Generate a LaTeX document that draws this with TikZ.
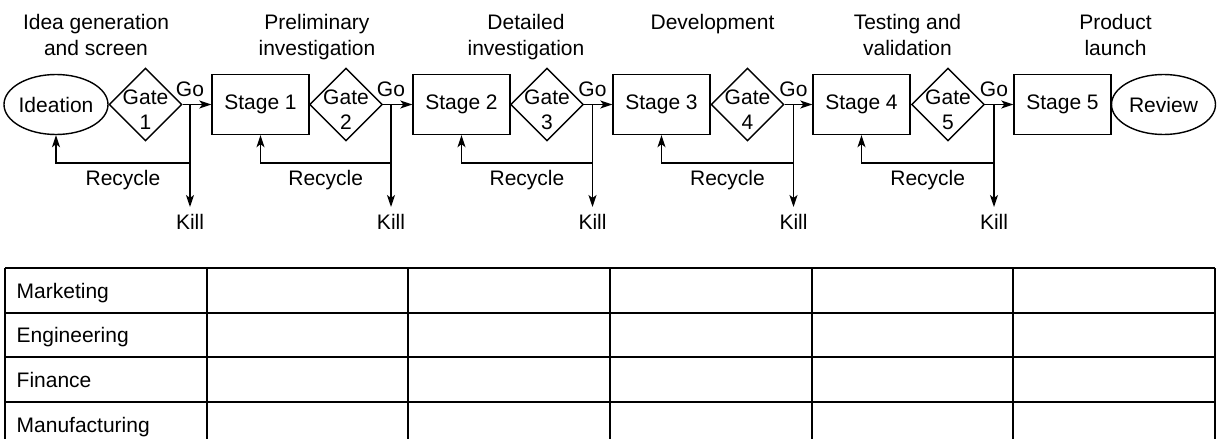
\documentclass[tikz,border=0pt]{standalone}
\usepackage{fontspec}
\setmainfont{Liberation Sans}
\usetikzlibrary{shapes.geometric,arrows.meta}

\begin{document}
\begin{tikzpicture}[x=0.5pt,y=-0.5pt,line width=0.7pt,
	  font=\fontsize{10.5}{12.5}\selectfont,
	  stagebox/.style={draw, rectangle, minimum width=48.5pt, minimum height=30pt, inner sep=0pt},
	  oval/.style={draw, ellipse, minimum width=52pt, minimum height=30pt, inner sep=0pt, inner xsep=-1pt},
	  gate/.style={draw, diamond, minimum width=36.5pt, minimum height=36.5pt, inner sep=0pt},
	  gatetext/.style={align=center, inner sep=0pt},
	  hdr/.style={align=center, anchor=north, inner sep=0pt, font=\fontsize{10.5}{13}\selectfont},
	  arr/.style={-{Stealth[length=6pt,width=4pt,inset=1.5pt]}},
	  rowlbl/.style={anchor=base west, inner sep=0pt},
	  grid/.style={line width=0.8pt}]
	  \useasboundingbox (0,0) rectangle (1223,439);

	  % phase headings
	  \node[hdr] (h1) at (96,14) {Idea generation\\and screen};
	  \node[hdr] (h2) at (317,14) {Preliminary\\investigation};
	  \node[hdr] (h3) at (526,14) {Detailed\\investigation};
	  \node[hdr] (h4) at (712.5,14) {Development};
	  \node[hdr] (h5) at (907.5,14) {Testing and\\validation};
	  \node[hdr] (h6) at (1115.5,14) {Product\\launch};

	  % stages and gates
	  \node[oval] (idea) at (56,104.5) {Ideation};
	  \node[gate] (g1) at (145.5,104.5) {};
	  \node[gatetext] (gt1) at ([yshift=-2.5pt]g1.center) {Gate\\1};
	  \node[stagebox] (s1) at (260.5,104.5) {Stage 1};
	  \node[gate] (g2) at (346,104.5) {};
	  \node[gatetext] (gt2) at ([yshift=-2.5pt]g2.center) {Gate\\2};
	  \node[stagebox] (s2) at (461.5,104.5) {Stage 2};
	  \node[gate] (g3) at (547,104.5) {};
	  \node[gatetext] (gt3) at ([yshift=-2.5pt]g3.center) {Gate\\3};
	  \node[stagebox] (s3) at (661.5,104.5) {Stage 3};
	  \node[gate] (g4) at (747.5,104.5) {};
	  \node[gatetext] (gt4) at ([yshift=-2.5pt]g4.center) {Gate\\4};
	  \node[stagebox] (s4) at (861.5,104.5) {Stage 4};
	  \node[gate] (g5) at (948,104.5) {};
	  \node[gatetext] (gt5) at ([yshift=-2.5pt]g5.center) {Gate\\5};
	  \node[stagebox] (s5) at (1062.5,104.5) {Stage 5};
	  \node[oval] (rev) at (1163.5,104.5) {Review};

	  % go / kill points
	  \coordinate (k1) at (190,104.5);
	  \coordinate (k2) at (391,104.5);
	  \coordinate (k3) at (592.5,104.5);
	  \coordinate (k4) at (793.5,104.5);
	  \coordinate (k5) at (994,104.5);
	  \coordinate (r1) at (190,163);
	  \coordinate (r2) at (391,163);
	  \coordinate (r3) at (592.5,163);
	  \coordinate (r4) at (793.5,163);
	  \coordinate (r5) at (994,163);

	  \node[anchor=south] (go1) at (k1) {Go};
	  \node[anchor=south] (go2) at (k2) {Go};
	  \node[anchor=south] (go3) at (k3) {Go};
	  \node[anchor=south] (go4) at (k4) {Go};
	  \node[anchor=south] (go5) at (k5) {Go};

	  \node[anchor=north] (kill1) at (190,207) {Kill};
	  \node[anchor=north] (kill2) at (391,207) {Kill};
	  \node[anchor=north] (kill3) at (592.5,207) {Kill};
	  \node[anchor=north] (kill4) at (793.5,207) {Kill};
	  \node[anchor=north] (kill5) at (994,207) {Kill};

	  \draw[arr] (g1.east) -- (s1.west);
	  \draw[arr] (g2.east) -- (s2.west);
	  \draw[arr] (g3.east) -- (s3.west);
	  \draw[arr] (g4.east) -- (s4.west);
	  \draw[arr] (g5.east) -- (s5.west);

	  \draw[arr] (k1) -- (kill1.north);
	  \draw[arr] (k2) -- (kill2.north);
	  \draw[arr] (k3) -- (kill3.north);
	  \draw[arr] (k4) -- (kill4.north);
	  \draw[arr] (k5) -- (kill5.north);

	  \draw[arr] (r1) -| node[pos=0.25, below] (rc1) {Recycle} (idea.south);
	  \draw[arr] (r2) -| node[pos=0.25, below] (rc2) {Recycle} (s1.south);
	  \draw[arr] (r3) -| node[pos=0.25, below] (rc3) {Recycle} (s2.south);
	  \draw[arr] (r4) -| node[pos=0.25, below] (rc4) {Recycle} (s3.south);
	  \draw[arr] (r5) -| node[pos=0.25, below] (rc5) {Recycle} (s4.south);

	  % function table
	  \draw[grid] (5,268) -- (1215,268);
	  \draw[grid] (5,313) -- (1215,313);
	  \draw[grid] (5,357) -- (1215,357);
	  \draw[grid] (5,402) -- (1215,402);
	  \draw[grid] (5,268) -- (5,439);
	  \draw[grid] (207,268) -- (207,439);
	  \draw[grid] (408,268) -- (408,439);
	  \draw[grid] (610,268) -- (610,439);
	  \draw[grid] (812,268) -- (812,439);
	  \draw[grid] (1013,268) -- (1013,439);
	  \draw[grid] (1215,268) -- (1215,439);

	  \node[rowlbl] (mkt) at (16,298) {Marketing};
	  \node[rowlbl] (eng) at (16,342.5) {Engineering};
	  \node[rowlbl] (fin) at (16,387) {Finance};
	  \node[rowlbl] (mfg) at (16,432) {Manufacturing};
	\end{tikzpicture}
\end{document}
